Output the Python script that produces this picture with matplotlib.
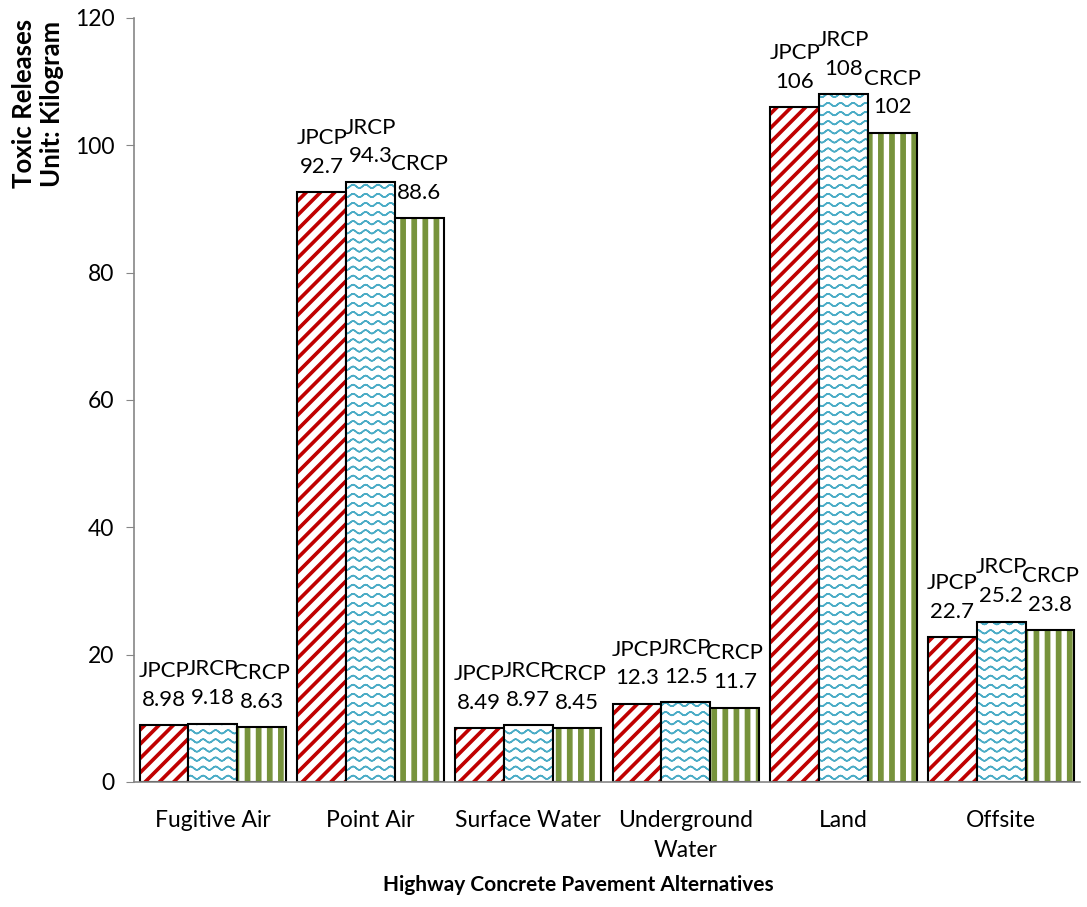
import warnings
import numpy as np
import matplotlib
matplotlib.use("Agg")
import matplotlib.pyplot as plt
from matplotlib import hatch as mhatch
from matplotlib.path import Path

warnings.filterwarnings("ignore")

# Datos
categorias = ["Fugitive Air", "Point Air", "Surface Water", "Underground\nWater", "Land", "Offsite"]
series = ["JPCP", "JRCP", "CRCP"]
jpcp = [8.98, 92.7, 8.49, 12.3, 106, 22.7]
jrcp = [9.18, 94.3, 8.97, 12.5, 108, 25.2]
crcp = [8.63, 88.6, 8.45, 11.7, 102, 23.8]
y_ticks = [0, 20, 40, 60, 80, 100, 120]

colores = ["#C00000", "#4BACC6", "#77933C"]
patrones = ["r", "w", "g"]


# Tramas tipo Excel: franjas diagonales, ondas y franjas verticales
class RayasDiagonales(mhatch.HatchPatternBase):
    def __init__(self, hatch, density):
        self.n = 7 if hatch.count("r") else 0
        self.num_vertices = (2 * self.n + 2) * 5 if self.n else 0

    def set_vertices_and_codes(self, vertices, codes):
        d = 0.03
        i = 0
        for k in range(-self.n - 1, self.n + 1):
            c = k / self.n
            pts = [(-1, -1 + c), (2, 2 + c), (2, 2 + c + d), (-1, -1 + c + d), (-1, -1 + c)]
            vertices[i:i + 5] = pts
            codes[i:i + 5] = [Path.MOVETO, Path.LINETO, Path.LINETO, Path.LINETO, Path.CLOSEPOLY]
            i += 5


class RayasVerticales(mhatch.HatchPatternBase):
    def __init__(self, hatch, density):
        self.n = 9 if hatch.count("g") else 0
        self.num_vertices = self.n * 5

    def set_vertices_and_codes(self, vertices, codes):
        w = 0.042
        for k in range(self.n):
            x0 = k / self.n + 0.01
            pts = [(x0, -0.1), (x0 + w, -0.1), (x0 + w, 1.1), (x0, 1.1), (x0, -0.1)]
            vertices[k * 5:k * 5 + 5] = pts
            codes[k * 5:k * 5 + 5] = [Path.MOVETO, Path.LINETO, Path.LINETO, Path.LINETO, Path.CLOSEPOLY]


class Ondas(mhatch.HatchPatternBase):
    def __init__(self, hatch, density):
        self.filas = 11 if hatch.count("w") else 0
        self.periodos = 8
        self.m = self.periodos * 12 + 1
        self.num_vertices = self.filas * self.m * 2

    def set_vertices_and_codes(self, vertices, codes):
        xs = np.linspace(0, 1, self.m)
        for j in range(self.filas):
            y0 = (j + 0.5) / self.filas
            ys = y0 + 0.017 * np.sin(2 * np.pi * self.periodos * xs)
            ida = np.column_stack([xs, ys])
            bloque = np.vstack([ida, ida[::-1]])
            a = j * self.m * 2
            vertices[a:a + 2 * self.m] = bloque
            cod = np.full(2 * self.m, Path.LINETO, dtype=Path.code_type)
            cod[0] = Path.MOVETO
            codes[a:a + 2 * self.m] = cod


mhatch._hatch_types.extend([RayasDiagonales, RayasVerticales, Ondas])

plt.rcParams["font.family"] = ["Lato", "DejaVu Sans"]
plt.rcParams["hatch.linewidth"] = 1.1

fig = plt.figure(figsize=(10.87, 9.07), dpi=100)
ax = fig.add_axes([134 / 1087, 1 - 782 / 907, (1080 - 134) / 1087, (782 - 18) / 907])

x = np.arange(len(categorias))
ancho = 0.31

for i, (nombre, valores) in enumerate(zip(series, [jpcp, jrcp, crcp])):
    pos = x + (i - 1) * ancho
    ax.bar(pos, valores, ancho, color="white", edgecolor=colores[i], hatch=patrones[i], linewidth=0)
    ax.bar(pos, valores, ancho, fill=False, edgecolor="black", linewidth=1.5)
    for xi, v in zip(pos, valores):
        ax.annotate(f"{nombre}\n{v:.3g}", (xi, v), xytext=(0, 11), textcoords="offset points",
                    ha="center", va="bottom", fontsize=16, linespacing=1.55)

ax.set_xlim(-0.5, len(categorias) - 0.5)
ax.set_ylim(0, 120)
ax.set_yticks(y_ticks)
ax.set_xticks(x)
ax.set_xticklabels(categorias, fontsize=16.5, linespacing=1.55)
ax.tick_params(axis="y", labelsize=16.5, length=6, color="#868686", pad=8)
ax.tick_params(axis="x", length=0, pad=20)
for lado in ["top", "right"]:
    ax.spines[lado].set_visible(False)
for lado in ["left", "bottom"]:
    ax.spines[lado].set_color("#868686")
    ax.spines[lado].set_linewidth(1.2)

fig.text(38 / 1087, 1 - 19 / 907, "Toxic Releases\nUnit: Kilogram", rotation=90,
         ha="center", va="top", fontsize=18.5, fontweight="bold", multialignment="center")
fig.text(578 / 1087, 1 - 885 / 907, "Highway Concrete Pavement Alternatives",
         ha="center", va="center", fontsize=15, fontweight="bold")

fig.savefig("out.png", dpi=100)
